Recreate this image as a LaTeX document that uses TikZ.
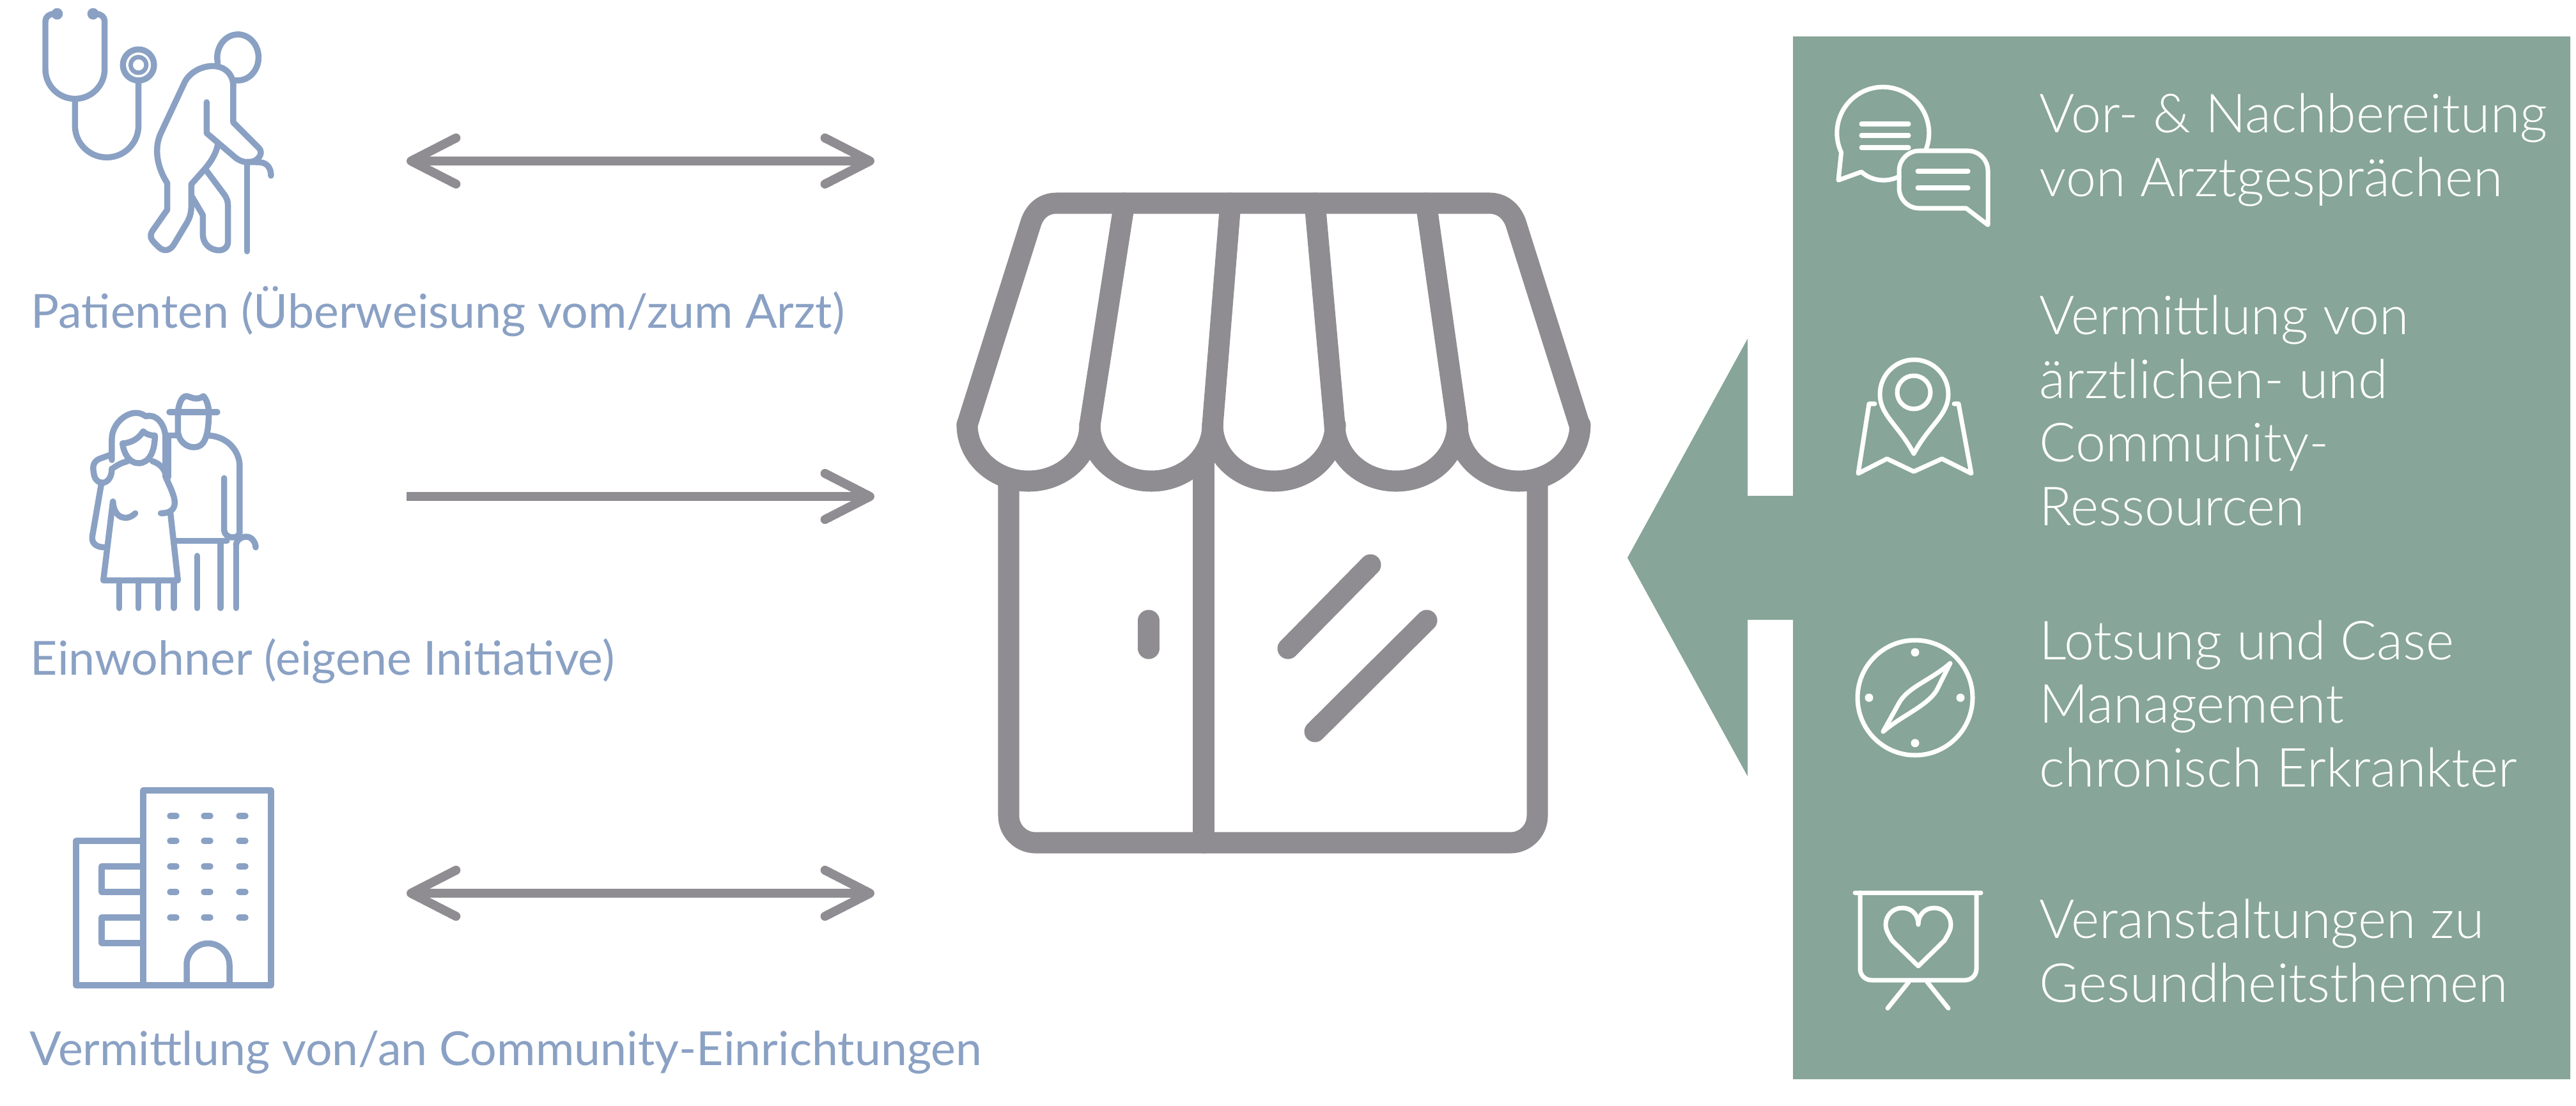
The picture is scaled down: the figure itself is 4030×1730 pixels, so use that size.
\documentclass[tikz,border=0pt]{standalone}
\usepackage{fontspec}
\setmainfont{Lato Light}
\newfontfamily\leftfont{Lato}
\usetikzlibrary{arrows.meta}
\definecolor{iconblue}{RGB}{138,161,196}
\definecolor{shopgray}{RGB}{143,141,146}
\definecolor{panelgreen}{RGB}{135,165,153}
\tikzset{
	lefttext/.style={anchor=base west,inner sep=0pt,text=iconblue,font=\leftfont\fontsize{20.9}{25}\selectfont},
	righttext/.style={anchor=base west,inner sep=0pt,text=white,align=left,font=\fontsize{24}{28.25}\selectfont},
	iconb/.style={draw=iconblue,line width=2.7pt,line cap=round,line join=round},
	iconw/.style={draw=white,line width=2pt,line cap=round,line join=round},
	shopline/.style={draw=shopgray,line width=9.4pt,line cap=round,line join=round},
	flowarrow/.style={draw=shopgray,line width=4pt},
	bothtip/.style={flowarrow,{Straight Barb[length=20pt,width=20.5pt,round]}-{Straight Barb[length=20pt,width=20.5pt,round]}},
	onetip/.style={flowarrow,-{Straight Barb[length=20pt,width=20.5pt,round]}}
}
\begin{document}
\begin{tikzpicture}[x=0.01cm,y=-0.01cm]
	\useasboundingbox (0,0) rectangle (4030,1730);

	\fill[panelgreen] (2805,57) -- (4021,57) -- (4021,1689) -- (2805,1689) -- (2805,970) -- (2734,970) -- (2734,1215) -- (2546,873) -- (2734,530) -- (2734,776) -- (2805,776) -- cycle;

	% stethoscope and patient
	\begin{scope}[shift={(40,0)},scale=0.3333]
		\fill[iconblue] (148,65) circle [radius=27];
		\fill[iconblue] (317,65) circle [radius=27];
		\draw[iconb] (135,65) .. controls (110,65) and (93,80) .. (93,100) -- (93,325) arc (180:0:139) -- (371,100) .. controls (371,80) and (355,65) .. (330,65);
		\draw[iconb] (232,464) -- (232,590) arc (180:0:149) -- (530,385);
		\draw[iconb] (530,305) circle [radius=73];
		\draw[iconb,line width=2pt] (530,305) circle [radius=37];
		\draw[iconb] (902,294) arc (167:456:97 and 108);
		\draw[iconb] (975,405) .. controls (975,340) and (925,310) .. (880,310) .. controls (820,310) and (765,345) .. (745,390) -- (635,625) .. controls (600,700) and (620,790) .. (665,860) -- (665,985) -- (595,1085) .. controls (580,1110) and (590,1125) .. (605,1140) -- (625,1160) .. controls (650,1185) and (680,1175) .. (695,1150) -- (755,1050) .. controls (770,1025) and (778,1000) .. (778,970) -- (778,865) -- (840,795) .. controls (870,760) and (895,720) .. (902,680);
		\draw[iconb] (850,480) -- (850,625) -- (985,740) .. controls (1010,760) and (1040,765) .. (1060,760) .. controls (1090,755) and (1120,720) .. (1095,695) -- (975,575) -- (975,405);
		\draw[iconb] (848,800) -- (930,910) .. controls (945,930) and (950,945) .. (950,965) -- (950,1135) .. controls (950,1165) and (925,1178) .. (900,1175) .. controls (860,1170) and (832,1140) .. (832,1100) -- (832,1010) -- (782,925);
		\draw[iconb] (1040,775) -- (1040,1180);
		\draw[iconb] (1040,760) -- (1100,762) .. controls (1135,765) and (1152,790) .. (1152,825);
	\end{scope}

	% couple
	\begin{scope}[shift={(110,600)},scale=0.3333]
		\draw[iconb] (195,360) -- (195,260) .. controls (195,180) and (290,105) .. (355,155) .. controls (400,140) and (447,190) .. (447,260) -- (447,440);
		\draw[iconb] (245,282) .. controls (250,325) and (275,375) .. (320,375) .. controls (370,375) and (397,320) .. (397,245) .. controls (370,245) and (350,235) .. (342,225) .. controls (325,255) and (290,280) .. (245,282);
		\draw[iconb] (205,395) .. controls (225,380) and (245,372) .. (270,365);
		\draw[iconb] (385,365) .. controls (425,380) and (447,405) .. (450,445) .. controls (470,490) and (490,530) .. (490,560) .. controls (490,595) and (465,610) .. (425,610);
		\draw[iconb] (190,335) -- (135,355) .. controls (105,370) and (105,395) .. (110,420) .. controls (115,485) and (195,485) .. (195,400);
		\draw[iconb] (145,475) -- (103,720) .. controls (100,755) and (125,770) .. (165,770);
		\draw[iconb] (200,555) -- (155,925) -- (505,925) -- (470,610);
		\draw[iconb] (200,555) .. controls (205,635) and (265,650) .. (305,610);
		\foreach \legx in {230,320,413,486}
			\draw[iconb] (\legx,925) -- (\legx,1055);
		\draw[iconb] (595,810) -- (595,1055);
		\draw[iconb] (705,750) -- (705,1055);
		\draw[iconb] (778,760) -- (778,1055);
		\draw[iconb] (460,245) -- (505,245);
		\draw[iconb] (465,135) -- (690,135);
		\draw[iconb] (505,135) .. controls (510,90) and (525,60) .. (545,60) .. controls (560,60) and (590,85) .. (625,60) .. controls (640,75) and (650,110) .. (650,135);
		\draw[iconb] (505,135) -- (505,220) .. controls (505,270) and (545,300) .. (580,300) .. controls (620,300) and (650,270) .. (650,135);
		\draw[iconb] (650,245) .. controls (740,250) and (795,320) .. (795,390) -- (795,700);
		\draw[iconb] (722,445) -- (722,690) .. controls (725,730) and (790,735) .. (795,700);
		\draw[iconb] (490,740) -- (735,740);
		\draw[iconb] (778,760) .. controls (780,730) and (810,720) .. (825,720) .. controls (855,720) and (870,750) .. (870,770);
		\draw[iconb] (460,245) -- (460,440);
	\end{scope}

	% buildings
	\draw[iconb] (224,1542) -- (224,1237) -- (424,1237) -- (424,1542) -- cycle;
	\draw[iconb] (224,1316) -- (119,1316) -- (119,1542) -- (224,1542);
	\foreach \winy in {1277,1316,1356,1396,1436}
		\foreach \winx in {271,324,379}
			\draw[iconb] (\winx-5,\winy) -- (\winx+5,\winy);
	\draw[iconb] (224,1356) -- (159,1356) -- (159,1396) -- (224,1396);
	\draw[iconb] (224,1436) -- (159,1436) -- (159,1476) -- (224,1476);
	\draw[iconb] (292,1542) -- (292,1510) arc (180:360:33.5) -- (359,1542);

	% shop
	\draw[shopline] (1513,665) -- (1613,348) .. controls (1620,328) and (1635,318) .. (1653,318) -- (2330,318) .. controls (2348,318) and (2363,328) .. (2371,348) -- (2471,665);
	\draw[shopline] (1759,318) -- (1705,665);
	\draw[shopline] (1925,318) -- (1897,665);
	\draw[shopline] (2057,318) -- (2088,665);
	\draw[shopline] (2231,318) -- (2280,665);
	\foreach \awnx in {1513,1705,1897,2088,2280}
		\draw[shopline] (\awnx,665) arc (180:0:96 and 88);
	\draw[shopline,rounded corners=12pt] (1578,760) -- (1578,1319) -- (2405,1319) -- (2405,760);
	\draw[shopline] (1883,716) -- (1883,1319);
	\draw[shopline] (1797,971) -- (1797,1015);
	\draw[shopline] (2144,884) -- (2015,1015);
	\draw[shopline] (2232,971) -- (2057,1145);

	% arrows
	\coordinate (patstart) at (636,252);
	\coordinate (patend) at (1368,252);
	\coordinate (einstart) at (636,777);
	\coordinate (einend) at (1368,777);
	\coordinate (comstart) at (636,1398);
	\coordinate (comend) at (1368,1398);
	\draw[bothtip] (patstart) -- (patend);
	\draw[onetip] (einstart) -- (einend);
	\draw[bothtip] (comstart) -- (comend);

	% labels
	\node[lefttext] (patlabel) at (48,513) {Patienten (Überweisung vom/zum Arzt)};
	\node[lefttext] (einlabel) at (47,1056) {Einwohner (eigene Initiative)};
	\node[lefttext] (comlabel) at (46,1667) {Vermittlung von/an Community-Einrichtungen};

	\node[righttext] (vortext) at (3190,307) {Vor- \& Nachbereitung\\von Arztgesprächen};
	\node[righttext] (vermtext) at (3190,822) {Vermittlung von\\ärztlichen- und\\Community-\\Ressourcen};
	\node[righttext] (lotstext) at (3190,1231) {Lotsung und Case\\Management\\chronisch Erkrankter};
	\node[righttext] (verantext) at (3190,1568) {Veranstaltungen zu\\Gesundheitsthemen};

	% chat icon
	\draw[iconw] (3013,234) arc (21:-205:72) -- (2876,282) -- (2912,269) .. controls (2930,285) and (2955,285) .. (2971,276);
	\foreach \chaty in {194,212,231}
		\draw[iconw] (2912,\chaty) -- (2986,\chaty);
	\draw[iconw] (3076,326) [rounded corners=9pt] -- (2971,326) -- (2971,236) -- (3110,236) [sharp corners] -- (3110,352) -- cycle;
	\foreach \chaty in {268,294}
		\draw[iconw] (3000,\chaty) -- (3079,\chaty);

	% map icon
	\draw[iconw] (2994,710) .. controls (2970,665) and (2941,650) .. (2941,617) arc (180:360:53.5 and 54) .. controls (3048,650) and (3018,665) .. (2994,710);
	\draw[iconw] (2994,614) circle [radius=26];
	\draw[iconw] (2933,632) -- (2924,632) -- (2907,741) -- (2952,718) -- (2994,738) -- (3038,718) -- (3084,741) -- (3064,632) -- (3057,632);

	% compass icon
	\draw[iconw] (2996,1092) circle [radius=90];
	\foreach \dotx/\doty in {2996/1021,2996/1163,2924/1092,3067/1092}
		\fill[white] (\dotx,\doty) circle [radius=6.5];
	\draw[iconw] (3051,1038) .. controls (3020,1065) and (2985,1075) .. (2971,1100) -- (2946,1145) .. controls (2975,1120) and (3015,1105) .. (3030,1080) -- cycle;

	% flip chart icon
	\draw[iconw] (2902,1397) -- (3099,1397);
	\draw[iconw,rounded corners=5pt] (2910,1397) -- (2910,1534) -- (3092,1534) -- (3092,1397);
	\draw[iconw] (2986,1537) -- (2953,1578);
	\draw[iconw] (3015,1537) -- (3048,1578);
	\draw[iconw] (3001,1447) .. controls (3001,1432) and (2991,1421) .. (2976,1421) .. controls (2961,1421) and (2950,1433) .. (2950,1447) .. controls (2950,1456) and (2955,1463) .. (2960,1472) -- (3001,1512) -- (3042,1472) .. controls (3047,1463) and (3052,1456) .. (3052,1447) .. controls (3052,1433) and (3041,1421) .. (3026,1421) .. controls (3011,1421) and (3001,1432) .. (3001,1447);
\end{tikzpicture}
\end{document}
